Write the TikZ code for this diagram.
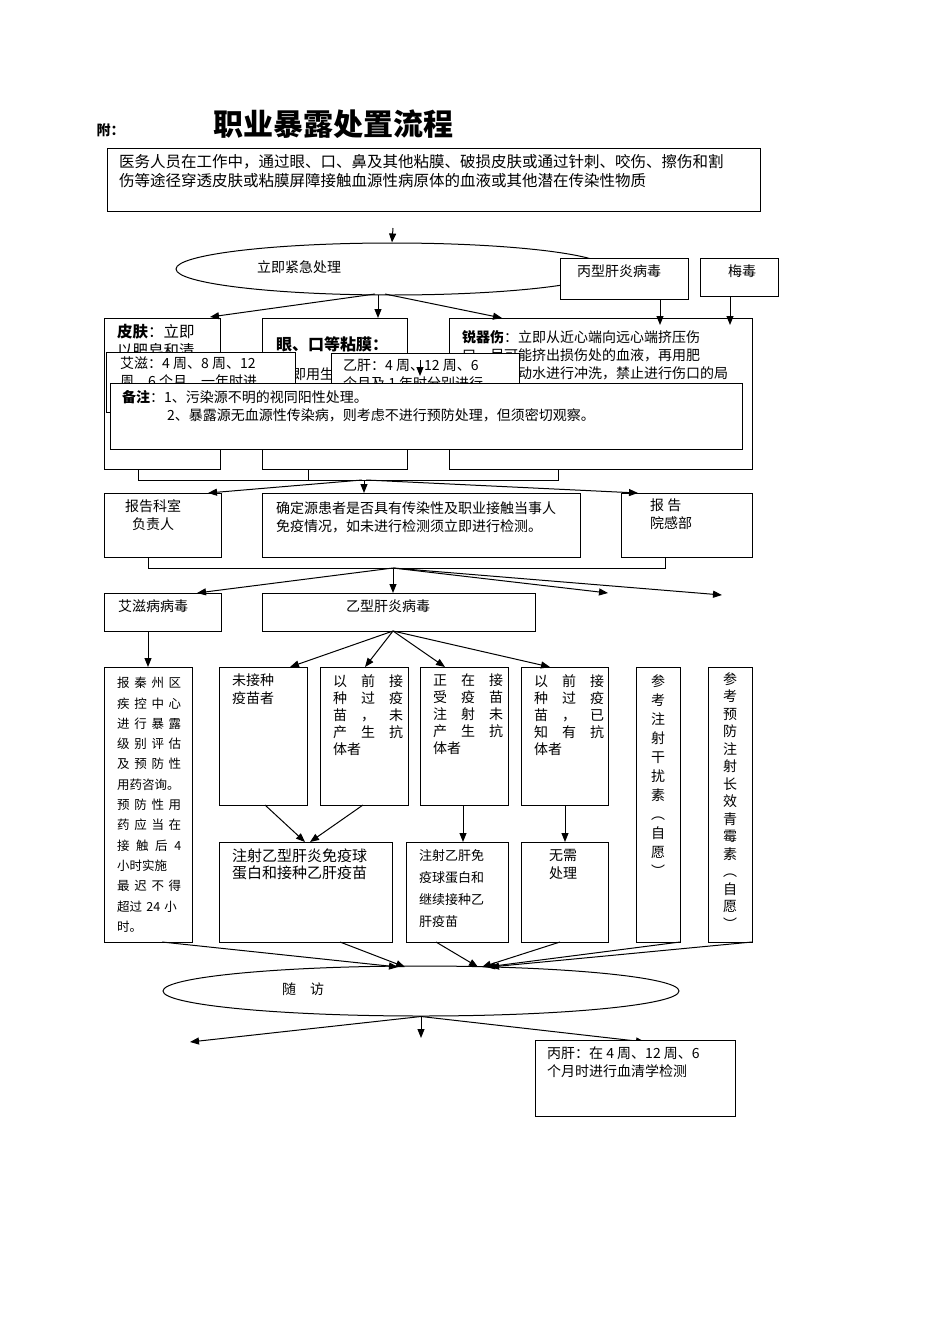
\documentclass[tikz,border=0pt]{standalone}
\usepackage{fontspec}
\setmainfont{Noto Sans CJK SC}
\usetikzlibrary{arrows.meta,shapes.geometric}
\begin{document}
\begin{tikzpicture}[x=1pt,y=-1pt,
 bx/.style={draw,line width=1pt,fill=white,inner sep=0,anchor=north west},
 tx/.style={anchor=north west,inner sep=0,align=left,font=\fontsize{14}{18}\selectfont},
 vt/.style={anchor=north,inner sep=0,align=center,font=\fontsize{14}{19}\selectfont},
 ar/.style={line width=1pt,-{Triangle[length=9pt,width=7pt]}},
 ln/.style={line width=1pt}]
\useasboundingbox[fill=white] (0,0) rectangle (950,1344);
\node[anchor=west,font=\bfseries\fontsize{14}{16}\selectfont] (fu) at (93,130) {附：};
\node[anchor=west,font=\bfseries\fontsize{30}{32}\selectfont] (title) at (210,124) {职业暴露处置流程};
% top box
\node[bx,minimum width=653,minimum height=63] (top) at (107,148) {};
\node[tx,font=\fontsize{15.5}{19}\selectfont] (toptx) at (119,154) {医务人员在工作中，通过眼、口、鼻及其他粘膜、破损皮肤或通过针刺、咬伤、擦伤和割\\伤等途径穿透皮肤或粘膜屏障接触血源性病原体的血液或其他潜在传染性物质};
\coordinate (t1) at (393,228);
\node[draw,ellipse,line width=1pt,minimum width=432,minimum height=52,inner sep=0] (jj) at (392,269) {};
\draw[ar] (t1) -- (jj.north);
\node[tx] (jjtx) at (257,260) {立即紧急处理};
\node[bx,minimum width=128,minimum height=41] (bg) at (560,258) {};
\node[tx] at (577,265) {丙型肝炎病毒};
\node[bx,minimum width=78,minimum height=38] (md) at (700,258) {};
\node[tx] at (728,265) {梅毒};
% three treatment boxes
\node[bx,minimum width=116,minimum height=151] (pf) at (104,318) {};
\node[tx,font=\fontsize{15.5}{19}\selectfont] at (117,324) {\textbf{皮肤}：立即\\以肥皂和清};
\node[bx,minimum width=145,minimum height=151] (yk) at (262,318) {};
\node[tx,font=\bfseries\fontsize{16}{20}\selectfont] at (276,336) {眼、口等粘膜：};
\node[tx] at (292,368) {即用生理};
\node[bx,minimum width=303,minimum height=151] (rq) at (449,318) {};
\node[tx] at (462,330) {\textbf{锐器伤}：立即从近心端向远心端挤压伤\\口，尽可能挤出损伤处的血液，再用肥\\皂液和流动水进行冲洗，禁止进行伤口的局};
\draw[ar] (375,294) -- (210,317);
\draw[ar] (378,295) -- (378,318);
\draw[ar] (385,294) -- (502,318);
\draw[ar] (bg.south-|660,0) -- (660,325);
\draw[ar] (md.south-|730,0) -- (730,325);
% overlay boxes
\node[bx,minimum width=189,minimum height=60] (az) at (106,352) {};
\node[tx] at (120,357) {艾滋：4 周、8 周、12\\周、6 个月、一年时进};
\node[bx,minimum width=188,minimum height=60] (yg) at (331,353) {};
\node[tx] at (343,359) {乙肝：4 周、12 周、6\\个月及 1 年时分别进行};
\node[bx,minimum width=632,minimum height=66] (bz) at (110,383) {};
\node[tx] at (122,390) {\textbf{备注}：1、污染源不明的视同阳性处理。\\\hspace{3.2em}2、暴露源无血源性传染病，则考虑不进行预防处理，但须密切观察。};
\draw[ar] (420,360) -- (420,376);
% bracket 1
\draw[ln] (138,469) -- (138,480) -- (558,480) -- (558,469);
\draw[ln] (308,469) -- (308,480);
\node[bx,minimum width=117,minimum height=64] (bk) at (104,493) {};
\node[tx,align=center] at (125,499) {报告科室\\负责人};
\node[bx,minimum width=318,minimum height=64] (qd) at (262,493) {};
\node[tx] at (276,501) {确定源患者是否具有传染性及职业接触当事人\\免疫情况，如未进行检测须立即进行检测。};
\node[bx,minimum width=131,minimum height=64] (bh) at (621,493) {};
\node[tx] at (650,499) {报 告\\院感部};
\draw[ar] (362,480) -- (208,493);
\draw[ar] (364,480) -- (364,493);
\draw[ar] (366,480) -- (638,493);
% bracket 2
\draw[ln] (148,557) -- (148,568) -- (665,568) -- (665,557);
\node[bx,minimum width=117,minimum height=38] (azb) at (104,593) {};
\node[tx] at (118,600) {艾滋病病毒};
\node[bx,minimum width=273,minimum height=38] (ygb) at (262,593) {};
\node[tx] at (346,600) {乙型肝炎病毒};
\draw[ar] (393,568) -- (197,593);
\draw[ar] (393,568) -- (393,593);
\draw[ar] (393,568) -- (608,593);
\draw[ar] (393,568) -- (722,595);
% row 3
\node[bx,minimum width=88,minimum height=275] (bq) at (104,667) {};
\node[tx,text width=64,font=\fontsize{12.5}{20.3}\selectfont] at (117,677) {报\hfill{}秦\hfill{}州\hfill{}区\\疾\hfill{}控\hfill{}中\hfill{}心\\进\hfill{}行\hfill{}暴\hfill{}露\\级\hfill{}别\hfill{}评\hfill{}估\\及\hfill{}预\hfill{}防\hfill{}性\\用药咨询。\\预\hfill{}防\hfill{}性\hfill{}用\\药\hfill{}应\hfill{}当\hfill{}在\\接\hfill{}触\hfill{}后\hfill{}4\\小时实施\\最\hfill{}迟\hfill{}不\hfill{}得\\超过 24 小\\时。};
\node[bx,minimum width=88,minimum height=138] (wj) at (219,667) {};
\node[tx] at (232,674) {未接种\\疫苗者};
\node[bx,minimum width=88,minimum height=138] (yq) at (320,667) {};
\node[tx,font=\fontsize{14}{17}\selectfont] at (333,674) {以\quad 前\quad 接\\种\quad 过\quad 疫\\苗\quad ，\quad 未\\产\quad 生\quad 抗\\体者};
\node[bx,minimum width=88,minimum height=138] (zz) at (420,667) {};
\node[tx,font=\fontsize{14}{17}\selectfont] at (433,674) {正\quad 在\quad 接\\受\quad 疫\quad 苗\\注\quad 射\quad 未\\产\quad 生\quad 抗\\体者};
\node[bx,minimum width=87,minimum height=138] (yy) at (521,667) {};
\node[tx,font=\fontsize{14}{17}\selectfont] at (534,674) {以\quad 前\quad 接\\种\quad 过\quad 疫\\苗\quad ，\quad 已\\知\quad 有\quad 抗\\体者};
\node[bx,minimum width=44,minimum height=275] (gr) at (636,667) {};
\node[vt] at (658,674) {参\\考\\注\\射\\干\\扰\\素\\︵\\自\\愿\\︶};
\node[bx,minimum width=44,minimum height=275] (qm) at (708,667) {};
\node[vt,font=\fontsize{14}{17.5}\selectfont] at (730,672) {参\\考\\预\\防\\注\\射\\长\\效\\青\\霉\\素\\︵\\自\\愿\\︶};
\draw[ar] (azb.south-|148,0) -- (148,667);
\draw[ar] (393,631) -- (290,667);
\draw[ar] (393,631) -- (365,667);
\draw[ar] (393,631) -- (445,667);
\draw[ar] (393,631) -- (550,667);
% row 4
\node[bx,minimum width=173,minimum height=100] (zs1) at (219,842) {};
\node[tx,font=\fontsize{15}{17}\selectfont] at (232,849) {注射乙型肝炎免疫球\\蛋白和接种乙肝疫苗};
\node[bx,minimum width=102,minimum height=100] (zs2) at (406,842) {};
\node[tx,font=\fontsize{13}{22}\selectfont] at (419,849) {注射乙肝免\\疫球蛋白和\\继续接种乙\\肝疫苗};
\node[bx,minimum width=87,minimum height=100] (wx) at (521,842) {};
\node[tx,align=center] at (549,849) {无需\\处理};
\draw[ar] (265,805) -- (305,842);
\draw[ar] (363,805) -- (310,842);
\draw[ar] (463,805) -- (463,842);
\draw[ar] (565,805) -- (565,842);
% follow-up
\node[draw,ellipse,line width=1pt,minimum width=516,minimum height=50,inner sep=0] (sf) at (421,991) {};
\node[tx] at (282,983) {随\quad 访};
\draw[ar] (162,942) -- (398,967);
\draw[ar] (340,942) -- (405,967);
\draw[ar] (436,942) -- (478,967);
\draw[ar] (560,942) -- (482,967);
\draw[ar] (680,942) -- (486,967);
\draw[ar] (752,942) -- (490,967);
\draw[ar] (sf.south) -- (190,1042);
\draw[ar] (sf.south) -- (421,1038);
\draw[ar] (sf.south) -- (645,1042);
\node[bx,minimum width=200,minimum height=76] (bgj) at (535,1040) {};
\node[tx] at (547,1047) {丙肝：在 4 周、12 周、6\\个月时进行血清学检测};
\end{tikzpicture}
\end{document}
